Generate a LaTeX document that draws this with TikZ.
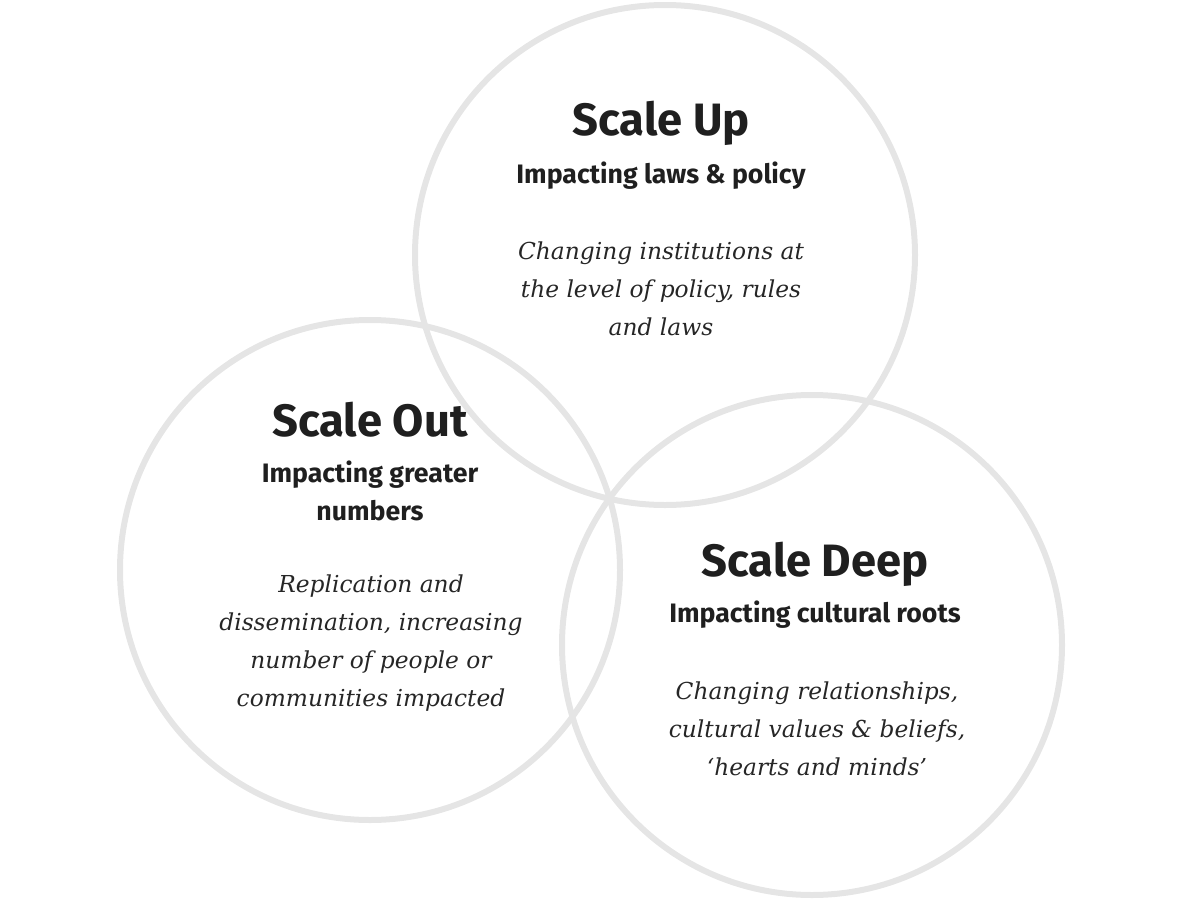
\documentclass[tikz,border=0pt]{standalone}
\usepackage{fontspec}
\setmainfont{Fira Sans}
\newfontfamily\itf{DejaVu Serif}
\begin{document}
\begin{tikzpicture}[x=0.75pt,y=-0.75pt,
  ring/.style={draw=black!10,line width=4.5pt},
  ttl/.style={font=\fontsize{34}{40}\selectfont\bfseries,text=black!88},
  sub/.style={font=\fontsize{20}{28}\selectfont\bfseries,text=black!88,align=center},
  body/.style={font=\itf\itshape\fontsize{17.5}{28.5}\selectfont,text=black!85,align=center}]
\useasboundingbox (0,0) rectangle (1200,903);
\draw[ring] (665,255) circle (250);
\draw[ring] (370,570) circle (250);
\draw[ring] (812,645) circle (250);
\node[ttl] (t1) at (661,123) {Scale Up};
\node[sub] (s1) at (661,176) {Impacting laws \& policy};
\node[body] (b1) at (661,289) {Changing institutions at\\the level of policy, rules\\and laws};
\node[ttl] (t2) at (370,420) {Scale Out};
\node[sub] (s2) at (370,491) {Impacting greater\\numbers};
\node[body] (b2) at (371,643) {Replication and\\dissemination, increasing\\number of people or\\communities impacted};
\node[ttl] (t3) at (815,564) {Scale Deep};
\node[sub] (s3) at (815,615) {Impacting cultural roots};
\node[body] (b3) at (817,729) {Changing relationships,\\cultural values \& beliefs,\\‘hearts and minds’};
\end{tikzpicture}
\end{document}
